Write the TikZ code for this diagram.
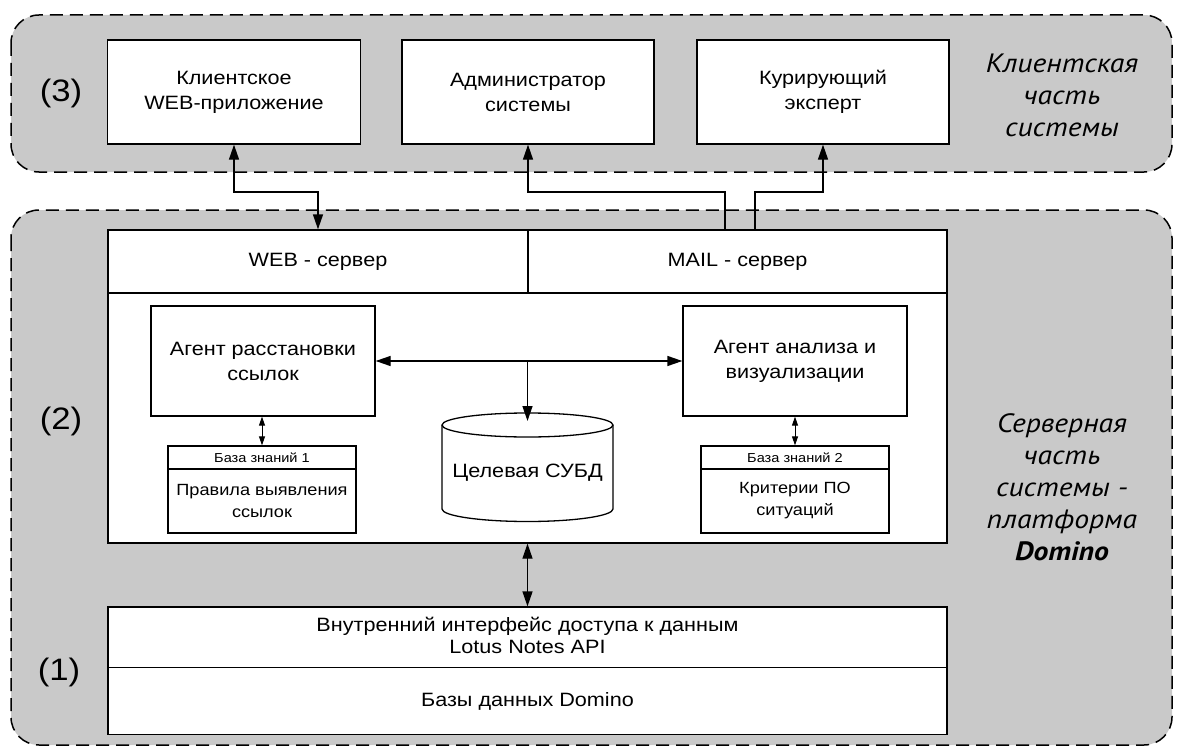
\documentclass[tikz,border=0pt]{standalone}
\usepackage{fontspec}
\setmainfont[FakeStretch=1.12]{Liberation Sans}
\newfontfamily\sidefont[FakeStretch=1.12]{PT Sans}
\usetikzlibrary{arrows.meta}
\definecolor{regiongray}{HTML}{C9C9C9}
\newcommand\mainsz{\fontsize{19.3}{25}\selectfont}
\begin{document}
\begin{tikzpicture}[x=1pt,y=-1pt,
 region/.style={draw=black,line width=1.5pt,dash pattern=on 13pt off 7pt,fill=regiongray,rounded corners=28pt},
 box/.style={draw=black,line width=1.3pt,fill=white,inner sep=0pt,align=center,font=\mainsz},
 arr/.style={line width=1.3pt,-{Triangle[length=15pt,width=10pt]}},
 dbl/.style={line width=1.3pt,{Triangle[length=15pt,width=10pt]}-{Triangle[length=15pt,width=10pt]}},
 sdbl/.style={line width=1pt,{Triangle[length=9pt,width=6pt]}-{Triangle[length=9pt,width=6pt]}},
 num/.style={font=\fontsize{31}{38}\selectfont},
 side/.style={font=\sidefont\fontsize{26.5}{32}\selectfont\itshape,align=center}]
\useasboundingbox (0,0) rectangle (1180,749);
% regions
\draw[region] (11,15) rectangle (1172,172);
\draw[region] (11,210) rectangle (1172,745);
% client part
\node[box,minimum width=253pt,minimum height=104pt] (client) at (234,92) {Клиентское\\WEB-приложение};
\node[box,minimum width=252pt,minimum height=104pt] (admin) at (528,92) {Администратор\\системы};
\node[box,minimum width=252pt,minimum height=104pt] (cur) at (823,92) {Курирующий\\эксперт};
\node[side] (clientside) at (1062,95) {Клиентская\\часть\\системы};
\node[num] (n3) at (61,93) {(3)};
% server part
\node[box,minimum width=420pt,minimum height=63pt] (web) at (318,261.5) {WEB - сервер};
\node[box,minimum width=419pt,minimum height=63pt] (mail) at (737.5,261.5) {MAIL - сервер};
\node[box,minimum width=839pt,minimum height=250pt] (main) at (527.5,418) {};
\node[box,minimum width=224pt,minimum height=110pt] (ag1) at (263,361) {Агент расстановки\\ссылок};
\node[box,minimum width=224pt,minimum height=110pt] (ag2) at (795,361) {Агент анализа и\\визуализации};
\node[box,minimum width=188pt,minimum height=23pt,font=\fontsize{13}{16}\selectfont] (kb1h) at (262,457.5) {База знаний 1};
\node[box,minimum width=188pt,minimum height=64pt,font=\fontsize{16.2}{22}\selectfont] (kb1) at (262,501) {Правила выявления\\ссылок};
\node[box,minimum width=188pt,minimum height=23pt,font=\fontsize{13}{16}\selectfont] (kb2h) at (795,457.5) {База знаний 2};
\node[box,minimum width=188pt,minimum height=64pt,font=\fontsize{16.2}{22}\selectfont] (kb2) at (795,501) {Критерии ПО\\ситуаций};
% cylinder
\draw[line width=1.3pt,fill=white] (442,425) -- (442,509) arc[start angle=180,end angle=360,x radius=85.5pt,y radius=12.5pt] -- (613,425) arc[start angle=0,end angle=180,x radius=85.5pt,y radius=12pt] -- cycle;
\draw[line width=1.3pt] (442,425) arc[start angle=180,end angle=360,x radius=85.5pt,y radius=12pt];
\node[font=\mainsz] (dbms) at (527.5,473) {Целевая СУБД};
\coordinate (dbtop) at (527.5,421);
% bottom
\node[box,minimum width=839pt,minimum height=61pt] (api) at (527.5,637.5) {};
\node[font=\fontsize{19.3}{22}\selectfont,align=center] (apitxt) at (527.5,635) {Внутренний интерфейс доступа к данным\\Lotus Notes API};
\node[box,minimum width=839pt,minimum height=67pt] (dbs) at (527.5,701) {Базы данных Domino};
\node[num] (n2) at (61,421) {(2)};
\node[num] (n1) at (59,672) {(1)};
\node[side] (serverside) at (1062,487) {Серверная\\часть\\системы -\\платформа\\\textbf{Domino}};
% connectors
\coordinate (busy) at (0,192);
\coordinate (m1) at (725,230);
\coordinate (m2) at (755,230);
\coordinate (jn) at (527.5,361);
\draw[dbl] (client.south) -- (client.south |- busy) -| (web.north);
\draw[arr] (m1) -- (m1 |- busy) -| (admin.south);
\draw[arr] (m2) -- (m2 |- busy) -| (cur.south);
\draw[dbl] (ag1.east) -- (ag2.west);
\draw[arr] (jn) -- (dbtop);
\draw[sdbl] (ag1.south -| kb1h.north) -- (kb1h.north);
\draw[sdbl] (ag2.south) -- (kb2h.north);
\draw[dbl] (main.south) -- (api.north);
\end{tikzpicture}
\end{document}
